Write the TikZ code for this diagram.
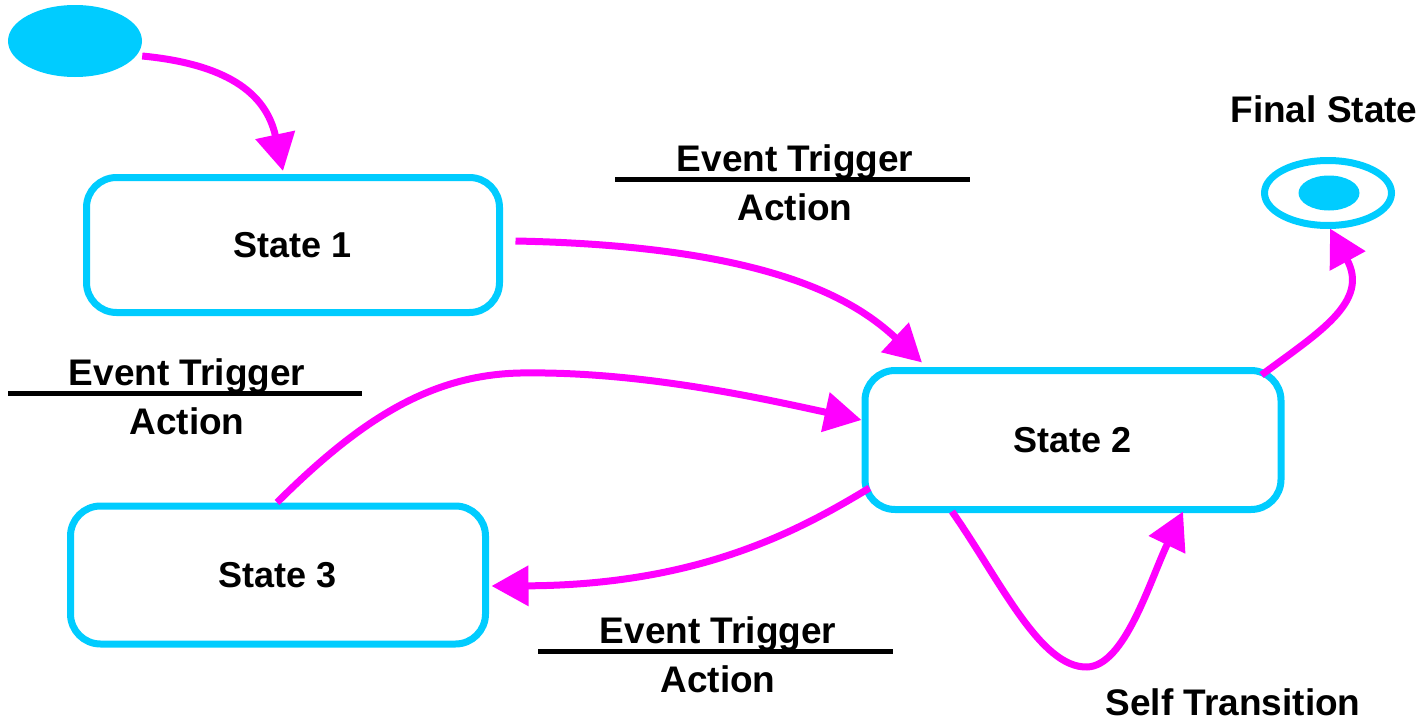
\documentclass[tikz,border=0pt]{standalone}
\usepackage{fontspec}
\setmainfont{Liberation Sans}
\usetikzlibrary{arrows.meta,shapes.geometric,calc}
\definecolor{stcyan}{HTML}{00CCFF}
\definecolor{mag}{HTML}{FF00FF}
\tikzset{
  lbl/.style={font=\bfseries\fontsize{37}{40}\selectfont, inner sep=0pt, anchor=base},
  statebox/.style={draw=stcyan, line width=7pt, rounded corners=30pt, fill=white,
    minimum width=415pt, minimum height=138pt, inner sep=0pt,
    font=\bfseries\fontsize{36}{40}\selectfont},
  arr/.style={draw=mag, line width=7pt, -{Triangle[length=37pt,width=39pt]}},
  sep/.style={draw=black, line width=5pt}
}
\begin{document}
\begin{tikzpicture}[x=1pt,y=-1pt]
\useasboundingbox (0,0) rectangle (1428,720);
% states
\node[ellipse, fill=stcyan, minimum width=134pt, minimum height=72pt, inner sep=0pt] (init) at (75,41) {};
\node[statebox, minimum width=413pt, minimum height=135pt] (s1) at (293,245) {State 1};
\node[statebox, minimum width=416pt, minimum height=139pt] (s2) at (1073,440) {State 2};
\node[statebox] (s3) at (278,575) {State 3};
\node[ellipse, draw=stcyan, line width=7pt, minimum width=127pt, minimum height=65pt, inner sep=0pt] (fin) at (1328,193) {};
\node[ellipse, fill=stcyan, minimum width=61pt, minimum height=35pt, inner sep=0pt] (fincore) at (1329,193) {};
\node[lbl] (fintxt) at (1324,122) {Final State};
% guard labels
\node[lbl] (ea) at (795,171) {Event Trigger};
\node[lbl] (aa) at (795,220) {Action};
\draw[sep] (615,179) -- (970,179);
\node[lbl] (eb) at (187,385) {Event Trigger};
\node[lbl] (ab) at (187,434) {Action};
\draw[sep] (8,393) -- (362,393);
\node[lbl] (ec) at (718,643) {Event Trigger};
\node[lbl] (ac) at (718,692) {Action};
\draw[sep] (538,651) -- (893,651);
\node[lbl] (selftxt) at (1233,715) {Self Transition};
% transitions
\draw[arr] ($(init.east)+(0,15)$) .. controls (225,64) and (266,92) .. ($(s1.north)+(-10,-3)$);
\draw[arr] ($(s1.east)+(12.5,-4)$) .. controls (770,246) and (855,300) .. ($(s2.north)+(-151,-4.5)$);
\draw[arr] ($(s3.north)+(-1,0)$) .. controls (360,420) and (430,375) .. (520,373)
  .. controls (640,371) and (760,398) .. ($(s2.west)+(0,-20)$);
\draw[arr] ($(s2.west)+(8,48)$) .. controls (800,530) and (700,585) .. ($(s3.east)+(2.5,11)$);
\draw[arr] ($(s2.south)+(-121,-1.5)$) .. controls (1000,580) and (1040,668) .. (1087,667)
  .. controls (1125,666) and (1150,580) .. ($(s2.south)+(110,-1.5)$);
\draw[arr] ($(s2.east)+(-23,-65)$) .. controls (1318,333) and (1370,302) .. ($(fin.south)+(2,-0.5)$);
\end{tikzpicture}
\end{document}
